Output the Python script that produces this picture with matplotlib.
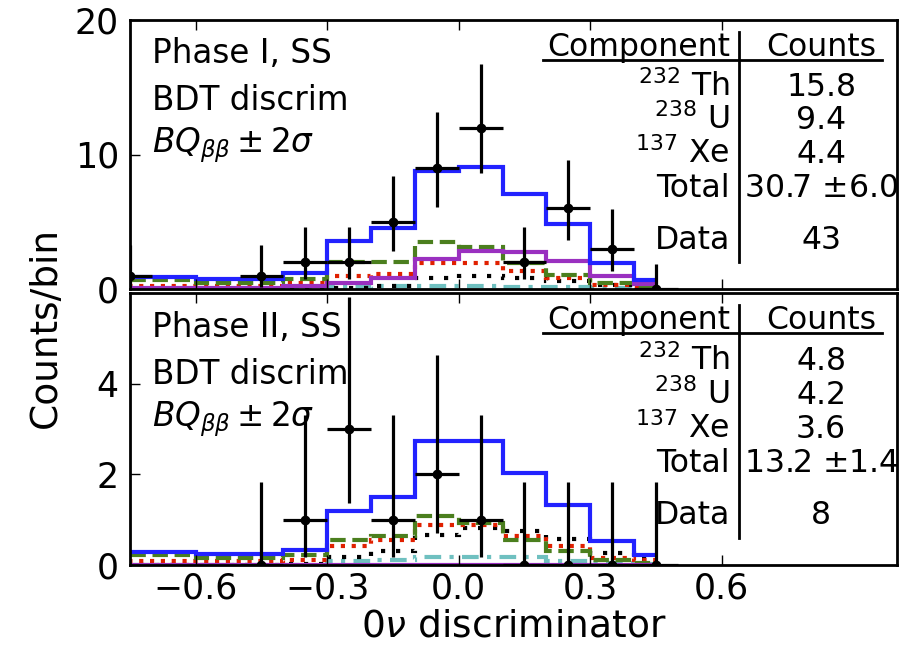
import numpy as np
import matplotlib
matplotlib.use('Agg')
from matplotlib import pyplot as plt

# bin edges of the fitted pdf histograms
edges = [-1.0, -0.6, -0.4, -0.3, -0.2, -0.1, 0.0, 0.1, 0.2, 0.3, 0.4, 0.45]

# Phase I
tot1 = [0.9, 0.72, 1.2, 3.6, 4.5, 8.75, 9.1, 7.1, 4.8, 1.9, 0.7]
th1 = [0.65, 0.42, 0.72, 2.0, 2.0, 3.5, 3.15, 1.96, 1.04, 0.42, 0.2]
u1 = [0.22, 0.22, 0.42, 0.97, 1.15, 1.9, 1.9, 1.34, 0.8, 0.28, 0.25]
xe1 = [0.02, 0.02, 0.03, 0.05, 0.2, 0.8, 0.95, 0.85, 0.6, 0.3, 0.15]
oth1 = [0.0, 0.0, 0.0, 0.17, 0.2, 0.2, 0.2, 0.15, 0.12, 0.08, 0.05]
tnn1 = [0.1, 0.1, 0.2, 0.47, 0.84, 2.2, 2.85, 2.76, 2.1, 0.97, 0.37]

dx1 = [-0.75, -0.45, -0.35, -0.25, -0.15, -0.05, 0.05, 0.15, 0.25, 0.35, 0.45]
dn1 = [1, 1, 2, 2, 5, 9, 12, 2, 6, 3, 0]
dlo1 = [0.17, 0.17, 0.71, 0.71, 2.84, 6.06, 8.59, 0.71, 3.62, 1.37, 0.0]
dhi1 = [3.30, 3.30, 4.64, 4.64, 8.38, 13.15, 16.73, 4.64, 9.58, 5.92, 1.84]

# Phase II
tot2 = [0.29, 0.24, 0.33, 1.2, 1.51, 2.73, 2.73, 2.03, 1.33, 0.53, 0.22]
th2 = [0.21, 0.16, 0.21, 0.55, 0.64, 1.07, 0.92, 0.55, 0.3, 0.11, 0.05]
u2 = [0.09, 0.09, 0.1, 0.42, 0.55, 0.88, 0.88, 0.64, 0.42, 0.16, 0.1]
xe2 = [0.01, 0.01, 0.02, 0.18, 0.3, 0.67, 0.82, 0.74, 0.57, 0.26, 0.13]
oth2 = [0.0, 0.0, 0.0, 0.09, 0.1, 0.18, 0.18, 0.18, 0.08, 0.05, 0.03]
tnn2 = [0.01, 0.01, 0.01, 0.01, 0.01, 0.01, 0.01, 0.01, 0.01, 0.01, 0.01]

dx2 = [-0.45, -0.35, -0.25, -0.15, -0.05, 0.05, 0.15, 0.25, 0.35, 0.45]
dn2 = [0, 1, 3, 1, 2, 1, 0, 0, 0, 0]
dlo2 = [0.0, 0.17, 1.37, 0.17, 0.71, 0.17, 0.0, 0.0, 0.0, 0.0]
dhi2 = [1.84, 3.30, 5.92, 3.30, 4.64, 3.30, 1.84, 1.84, 1.84, 1.84]

tab_rows = [r'$^{232}$ Th', r'$^{238}$ U', r'$^{137}$ Xe', 'Total', 'Data']
tab1 = ['15.8', '9.4', '4.4', r'30.7 $\pm$6.0', '43']
tab2 = ['4.8', '4.2', '3.6', r'13.2 $\pm$1.4', '8']

FS = 23.5
FT = 22.7
plt.rcParams['font.size'] = FS

fig = plt.figure(figsize=(9.07, 6.47), dpi=100)
ax1 = fig.add_axes([130/907, 358/647, 767/907, 269/647])
ax2 = fig.add_axes([130/907, 82/647, 767/907, 272/647])


def draw_panel(ax, tot, th, u, xe, oth, tnn, dx, dn, dlo, dhi, title, tab):
    ax.stairs(oth, edges, baseline=None, color='#6fc0c0', lw=3, ls=(0, (4, 2, 1, 2)))
    ax.stairs(xe, edges, baseline=None, color='black', lw=3, ls=(0, (1, 2.6)))
    ax.stairs(u, edges, baseline=None, color='#e02000', lw=3, ls=(0, (1, 1.6)))
    ax.stairs(th, edges, baseline=None, color='#4b7f1e', lw=3, ls=(0, (3.7, 1.6)))
    ax.stairs(tnn, edges, baseline=None, color='#9a30c0', lw=3)
    ax.stairs(tot, edges, baseline=None, color='#2222ff', lw=3)
    lo = np.array(dn) - np.array(dlo)
    hi = np.array(dhi) - np.array(dn)
    ax.errorbar(dx, dn, xerr=0.05, yerr=[lo, hi], fmt='o', color='black',
                ms=6, elinewidth=2.3, capsize=0, zorder=5)

    ax.set_xlim(-0.75, 1.0)
    ax.tick_params(direction='in', length=7, width=1, top=True, right=False,
                   pad=8, labelsize=25)
    for s in ax.spines.values():
        s.set_linewidth(2)

    tr = ax.transAxes
    ax.text(0.029, 0.84, title, transform=tr, va='baseline')
    ax.text(0.029, 0.665, 'BDT discrim', transform=tr, va='baseline')
    ax.text(0.029, 0.51, r'$BQ_{\beta\beta}\pm2\sigma$', transform=tr, va='baseline')

    ax.text(0.782, 0.868, 'Component', transform=tr, ha='right', va='baseline', fontsize=FT)
    ax.text(0.901, 0.868, 'Counts', transform=tr, ha='center', va='baseline', fontsize=FT)
    ax.plot([0.538, 0.981], [0.852, 0.852], transform=tr, color='black', lw=2, clip_on=False)
    ax.plot([0.794, 0.794], [0.1, 0.955], transform=tr, color='black', lw=2, clip_on=False)
    ys = [0.718, 0.593, 0.468, 0.342, 0.15]
    for y, lab, val in zip(ys, tab_rows, tab):
        ax.text(0.782, y, lab, transform=tr, ha='right', va='baseline', fontsize=FT)
        ax.text(0.901, y, val, transform=tr, ha='center', va='baseline', fontsize=FT)


draw_panel(ax1, tot1, th1, u1, xe1, oth1, tnn1, dx1, dn1, dlo1, dhi1, 'Phase I, SS', tab1)
draw_panel(ax2, tot2, th2, u2, xe2, oth2, tnn2, dx2, dn2, dlo2, dhi2, 'Phase II, SS', tab2)

ax1.set_ylim(0, 20)
ax1.set_yticks([0, 10, 20])
ax1.set_xticks([-0.6, -0.3, 0.0, 0.3, 0.6])
ax1.set_xticklabels([])
ax2.set_ylim(0, 6)
ax2.set_yticks([0, 2, 4, 6])
ax2.set_yticklabels(['0', '2', '4', ''])
ax2.set_xticks([-0.6, -0.3, 0.0, 0.3, 0.6])
ax2.set_xticklabels([u'\u22120.6', u'\u22120.3', '0.0', '0.3', '0.6'])
ax2.tick_params(axis='x', pad=5)
ax2.set_xlabel(r'0$\nu$ discriminator', fontsize=27, labelpad=2)

fig.text(46/907, 1 - 328/647, 'Counts/bin', rotation=90, ha='center', va='center',
         fontsize=27)

fig.savefig('out.png', dpi=100)
